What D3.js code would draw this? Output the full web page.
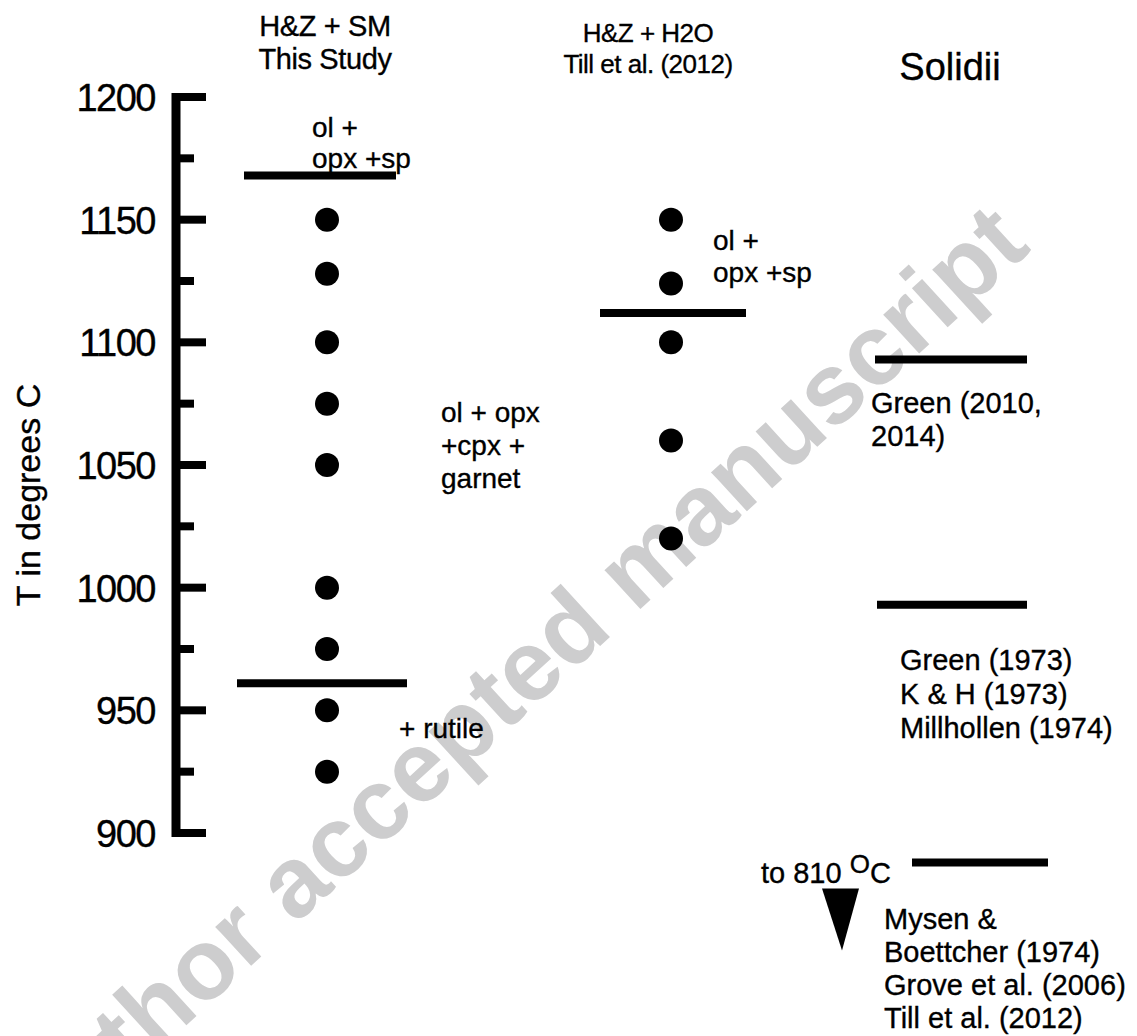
<!DOCTYPE html>
<html>
<head>
<meta charset="utf-8">
<script src="https://cdn.jsdelivr.net/npm/d3@7"></script>
<style>
  body { margin: 0; background: #fff; }
  svg text { font-family: "Liberation Sans", Arial, Helvetica, sans-serif; fill: #000; }
  svg text.ink { stroke: #000; stroke-width: 0.35px; }
</style>
</head>
<body>
<svg width="1137" height="1036"></svg>
<script>
// data
const majorTicks = [900, 950, 1000, 1050, 1100, 1150, 1200];
const minorTicks = [925, 975, 1025, 1075, 1125, 1175];
const studyTemps = [1150, 1128, 1100, 1075, 1050, 1000, 975, 950, 925];
const tillTemps = [1150, 1124, 1100, 1060, 1020];
const studyLines = [1168, 961];
const tillLines = [1112];
const solidusLines = [1093, 993, 888];

const svg = d3.select("svg");

const y = d3.scaleLinear().domain([900, 1200]).range([833, 97]);
const col = d3.scaleOrdinal()
  .domain(["study", "till", "solidii"])
  .range([327, 671, 951]);

// watermark
svg.append("text")
  .attr("transform", "translate(515,688) rotate(-42.5)")
  .attr("text-anchor", "middle")
  .attr("dominant-baseline", "middle")
  .style("font-size", "100px")
  .style("font-weight", "bold")
  .style("fill", "#cdcdce")
  .text("Author accepted manuscript");

// axis
const axisX = 176;
svg.append("line")
  .attr("x1", axisX).attr("x2", axisX)
  .attr("y1", y(1200) - 4).attr("y2", y(900) + 4)
  .attr("stroke", "#000").attr("stroke-width", 9);

svg.selectAll("line.major")
  .data(majorTicks)
  .enter().append("line")
  .attr("class", "major")
  .attr("x1", axisX).attr("x2", 206)
  .attr("y1", d => y(d)).attr("y2", d => y(d))
  .attr("stroke", "#000").attr("stroke-width", 8);

svg.selectAll("line.minor")
  .data(minorTicks)
  .enter().append("line")
  .attr("class", "minor")
  .attr("x1", axisX).attr("x2", 194)
  .attr("y1", d => y(d)).attr("y2", d => y(d))
  .attr("stroke", "#000").attr("stroke-width", 8);

svg.selectAll("text.tick")
  .data(majorTicks)
  .enter().append("text")
  .attr("class", "tick ink")
  .attr("x", 155).attr("y", d => y(d) + 14)
  .attr("text-anchor", "end")
  .style("font-size", "38px")
  .style("letter-spacing", "-1.5px")
  .text(d => d);

svg.append("text")
  .attr("class", "ink")
  .attr("transform", "translate(40,495) rotate(-90)")
  .attr("text-anchor", "middle")
  .style("font-size", "34px")
  .text("T in degrees C");

// points
const dotR = 12;
svg.selectAll("circle.study")
  .data(studyTemps)
  .enter().append("circle")
  .attr("class", "study")
  .attr("cx", col("study")).attr("cy", d => y(d)).attr("r", dotR)
  .attr("fill", "#000");

svg.selectAll("circle.till")
  .data(tillTemps)
  .enter().append("circle")
  .attr("class", "till")
  .attr("cx", col("till")).attr("cy", d => y(d)).attr("r", dotR)
  .attr("fill", "#000");

// phase boundaries / solidi
function hline(t, xc, half, dx) {
  svg.append("line")
    .attr("x1", xc + dx - half).attr("x2", xc + dx + half)
    .attr("y1", y(t)).attr("y2", y(t))
    .attr("stroke", "#000").attr("stroke-width", 8);
}
hline(studyLines[0], col("study"), 76, -7);
hline(studyLines[1], col("study"), 85, -5);
hline(tillLines[0], col("till"), 73, 2);
hline(solidusLines[0], col("solidii"), 76, 0);
hline(solidusLines[1], col("solidii"), 75, 1);
hline(solidusLines[2], col("solidii"), 68, 29);

// arrow pointing down (to 810 C)
const ty = y(solidusLines[2]);
svg.append("path")
  .attr("d", `M822,${ty + 26} L859,${ty + 26} L842,${ty + 88} Z`)
  .attr("fill", "#000");

// text blocks
function block(lines, x, y0, lh, size, anchor, ls) {
  const t = svg.append("text")
    .attr("class", "ink")
    .attr("text-anchor", anchor || "start")
    .style("font-size", size + "px")
    .style("letter-spacing", (ls || 0) + "px");
  lines.forEach((s, i) => {
    t.append("tspan").attr("x", x).attr("y", y0 + i * lh).text(s);
  });
  return t;
}

block(["H&Z + SM", "This Study"], 325, 36, 33, 29, "middle", -0.4);
block(["H&Z + H2O", "Till et al. (2012)"], 648, 42, 31, 26, "middle", -0.5);
block(["Solidii"], 950, 80, 30, 38, "middle");

block(["ol +", "opx +sp"], 312, 137, 31, 28);
block(["ol + opx", "+cpx +", "garnet"], 441, 422, 33, 28);
block(["+ rutile"], 399, 738, 32, 28);
block(["ol +", "opx +sp"], 713, 250, 32, 28);
block(["Green (2010,", "2014)"], 871, 413, 33, 29);
block(["Green (1973)", "K & H (1973)", "Millhollen (1974)"], 900, 670, 34, 29);
block(["Mysen &", "Boettcher (1974)", "Grove et al. (2006)", "Till et al. (2012)"], 884, 929, 33, 29);

const lbl = svg.append("text")
  .attr("class", "ink")
  .attr("x", 761).attr("y", ty + 21)
  .style("font-size", "29px");
lbl.append("tspan").text("to 810 ");
lbl.append("tspan").attr("dy", -10).style("font-size", "26px").text("O");
lbl.append("tspan").attr("dy", 10).text("C");
</script>
</body>
</html>
